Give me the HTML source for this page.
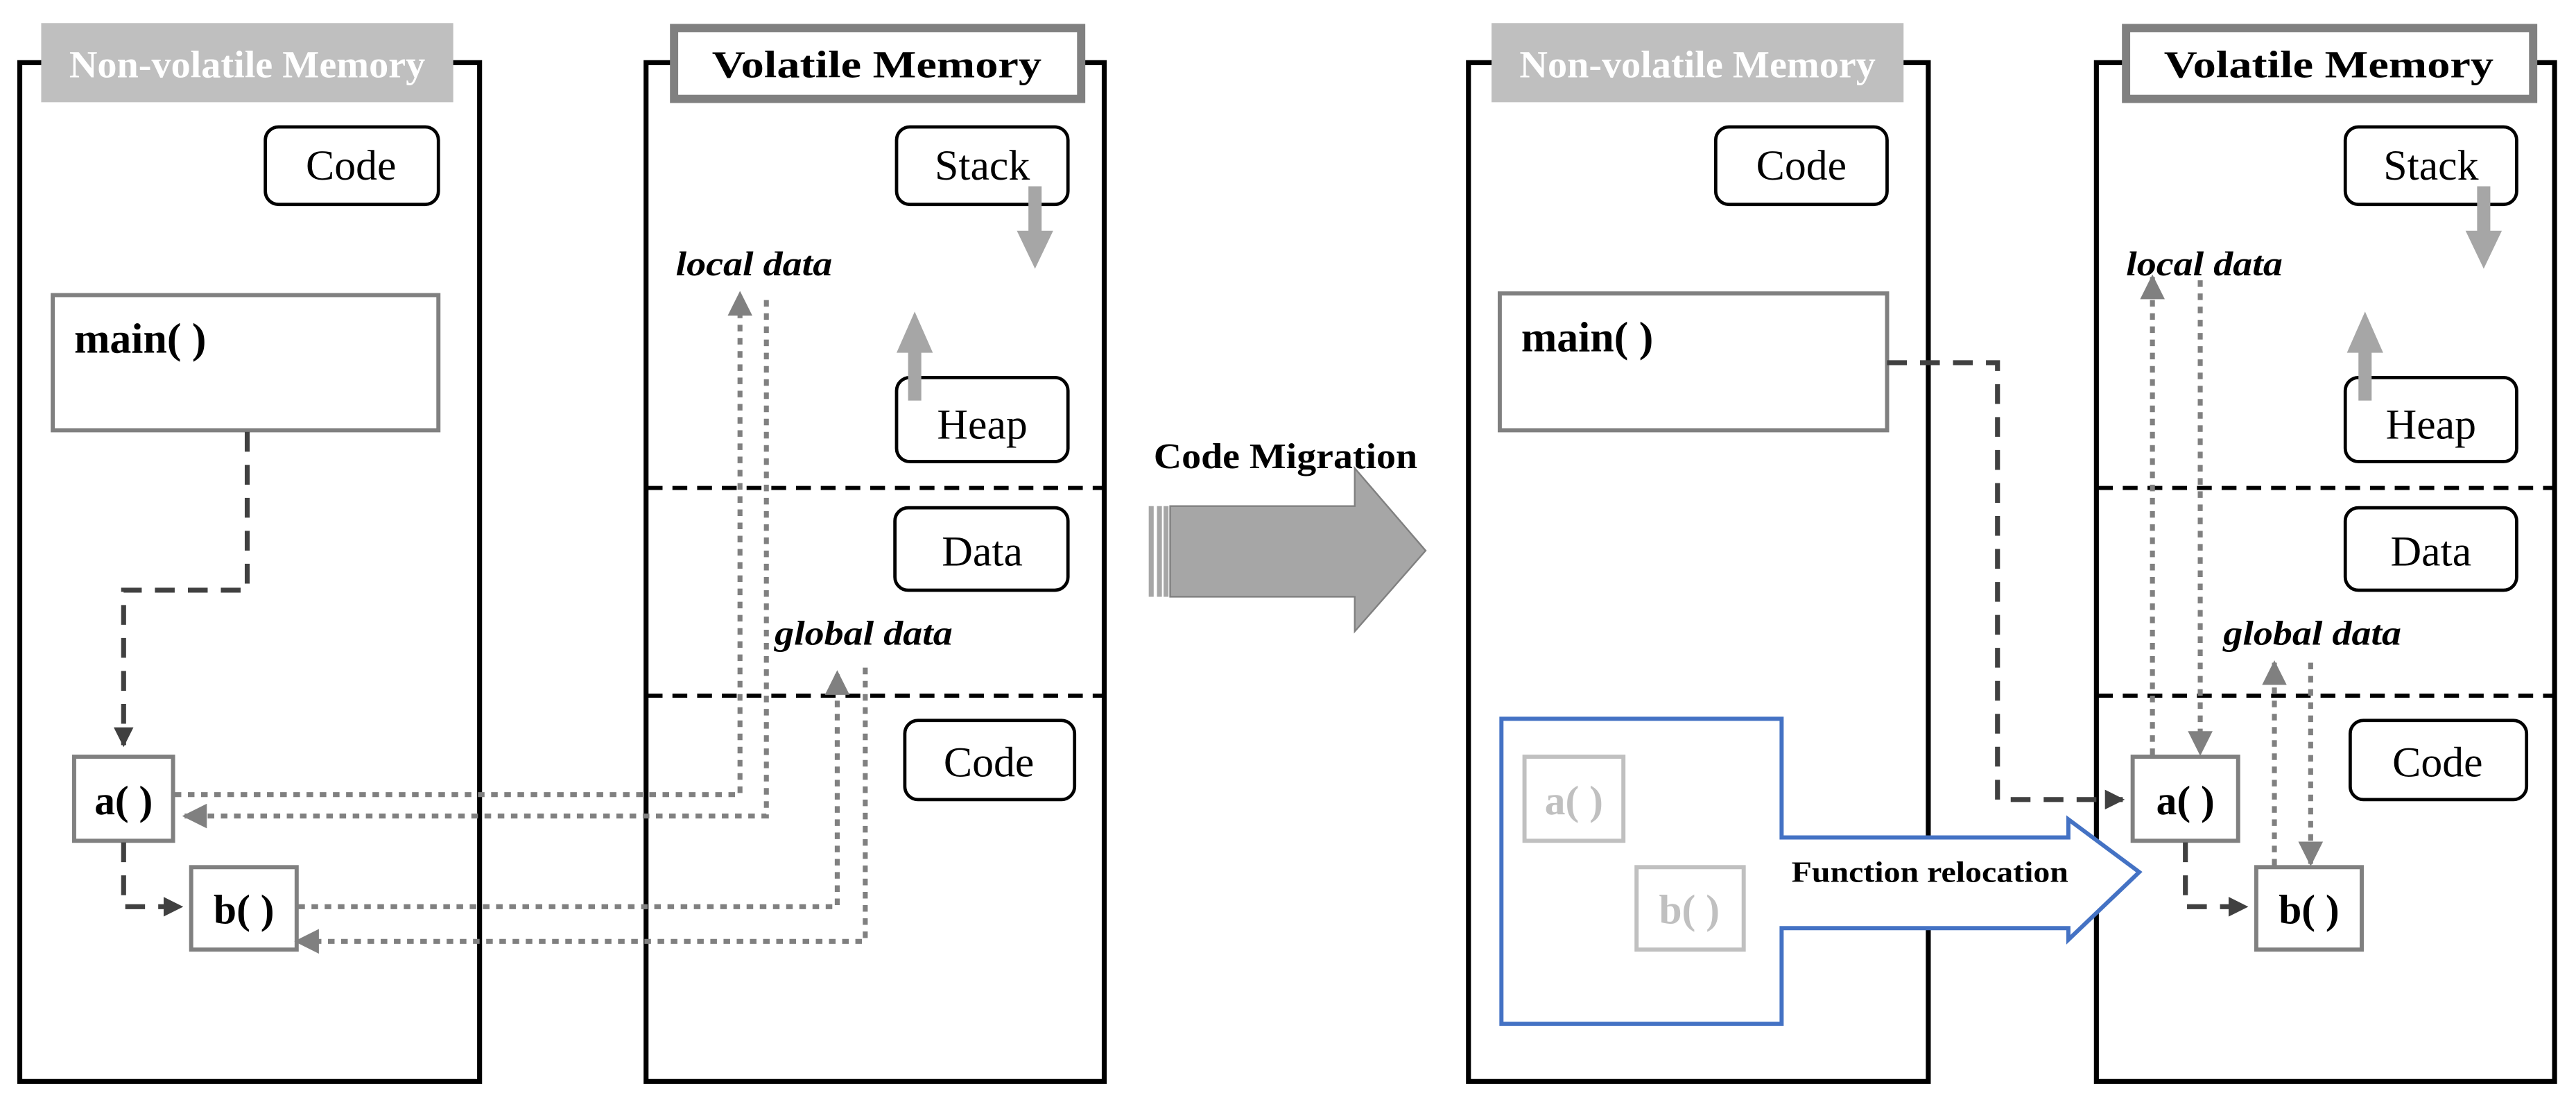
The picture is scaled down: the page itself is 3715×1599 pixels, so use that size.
<!DOCTYPE html>
<html><head><meta charset="utf-8"><style>html,body{margin:0;padding:0;background:#fff}svg{display:block}</style></head>
<body>
<svg width="3715" height="1599" viewBox="0 0 1563 672.7" preserveAspectRatio="none" xmlns="http://www.w3.org/2000/svg" font-family="Liberation Serif, serif">
<defs>
<marker id="ad" viewBox="0 0 10 10" refX="9" refY="5" markerWidth="4" markerHeight="4" orient="auto"><path d="M0,0L10,5L0,10z" fill="#404040"/></marker>
<marker id="ag" viewBox="0 0 10 10" refX="9" refY="5" markerWidth="5" markerHeight="5" orient="auto"><path d="M0,0L10,5L0,10z" fill="#808080"/></marker>
</defs>
<rect width="1563" height="673" fill="#fff"/>
<g fill="none" stroke="#000" stroke-width="3">
<rect x="12" y="38" width="279" height="618"/>
<rect x="392" y="38" width="278" height="618"/>
<rect x="891" y="38" width="279" height="618"/>
<rect x="1272" y="38" width="278" height="618"/>
</g>
<rect x="25" y="14" width="250" height="48" fill="#bfbfbf"/>
<text x="150" y="47" text-anchor="middle" font-size="23" font-weight="bold" fill="#fff" textLength="216" lengthAdjust="spacingAndGlyphs">Non-volatile Memory</text>
<rect x="905" y="14" width="250" height="48" fill="#bfbfbf"/>
<text x="1030" y="47" text-anchor="middle" font-size="23" font-weight="bold" fill="#fff" textLength="216" lengthAdjust="spacingAndGlyphs">Non-volatile Memory</text>
<rect x="409" y="17" width="247" height="43" fill="#fff" stroke="#808080" stroke-width="5"/>
<text x="532" y="47" text-anchor="middle" font-size="23" font-weight="bold" textLength="200" lengthAdjust="spacingAndGlyphs">Volatile Memory</text>
<rect x="1290" y="17" width="247" height="43" fill="#fff" stroke="#808080" stroke-width="5"/>
<text x="1413" y="47" text-anchor="middle" font-size="23" font-weight="bold" textLength="200" lengthAdjust="spacingAndGlyphs">Volatile Memory</text>
<g fill="#fff" stroke="#000" stroke-width="2">
<rect x="161" y="77" width="105" height="47" rx="8"/>
<rect x="1041" y="77" width="104" height="47" rx="8"/>
<rect x="544" y="77" width="104" height="47" rx="8"/>
<rect x="544" y="229" width="104" height="51" rx="8"/>
<rect x="543" y="308" width="105" height="50" rx="8"/>
<rect x="549" y="437" width="103" height="48" rx="8"/>
<rect x="1423" y="77" width="104" height="47" rx="8"/>
<rect x="1423" y="229" width="104" height="51" rx="8"/>
<rect x="1423" y="308" width="104" height="50" rx="8"/>
<rect x="1426" y="437" width="107" height="48" rx="8"/>
</g>
<g font-size="26" text-anchor="middle">
<text x="213" y="109">Code</text><text x="1093" y="109">Code</text>
<text x="596" y="109">Stack</text><text x="596" y="266">Heap</text><text x="596" y="343">Data</text><text x="600" y="471">Code</text>
<text x="1475" y="109">Stack</text><text x="1475" y="266">Heap</text><text x="1475" y="343">Data</text><text x="1479" y="471">Code</text>
</g>
<g stroke="#000" stroke-width="2.5" stroke-dasharray="9,6">
<line x1="393" y1="296" x2="669" y2="296"/><line x1="393" y1="422" x2="669" y2="422"/>
<line x1="1273" y1="296" x2="1549" y2="296"/><line x1="1273" y1="422" x2="1549" y2="422"/>
</g>
<g fill="#a6a6a6">
<rect x="624" y="113" width="8" height="28"/><path d="M617,140L639,140L628,163z"/>
<rect x="551" y="213" width="8" height="30"/><path d="M544,214L566,214L555,189z"/>
<rect x="1503" y="113" width="8" height="28"/><path d="M1496,140L1518,140L1507,163z"/>
<rect x="1431" y="213" width="8" height="30"/><path d="M1424,214L1446,214L1435,189z"/>
</g>
<rect x="32" y="179" width="234" height="82" fill="#fff" stroke="#808080" stroke-width="2.5"/>
<text x="45" y="214" font-size="26" font-weight="bold">main( )</text>
<rect x="910" y="178" width="235" height="83" fill="#fff" stroke="#808080" stroke-width="2.5"/>
<text x="923" y="213" font-size="26" font-weight="bold">main( )</text>
<g fill="#fff" stroke="#808080" stroke-width="2.5">
<rect x="45" y="459" width="60" height="51"/><rect x="116" y="526" width="64" height="50"/>
<rect x="1294" y="459" width="64" height="51"/><rect x="1369" y="526" width="64" height="50"/>
</g>
<g font-size="25" font-weight="bold" text-anchor="middle">
<text x="75" y="494">a( )</text><text x="148" y="560">b( )</text>
<text x="1326" y="494">a( )</text><text x="1401" y="560">b( )</text>
</g>
<g fill="none" stroke="#404040" stroke-width="3" stroke-dasharray="12,8">
<path d="M150,262V358H75V452" marker-end="url(#ad)"/>
<path d="M75,511V550H110" marker-end="url(#ad)"/>
<path d="M1145,220H1212V485H1288" marker-end="url(#ad)"/>
<path d="M1326,511V550H1363" marker-end="url(#ad)"/>
</g>
<g fill="none" stroke="#808080" stroke-width="3" stroke-dasharray="4,4">
<path d="M106,482H449V178" marker-end="url(#ag)"/>
<path d="M465,182V495H112" marker-end="url(#ag)"/>
<path d="M181,550H508V408" marker-end="url(#ag)"/>
<path d="M525,405V571H180" marker-end="url(#ag)"/>
<path d="M1306,458V168" marker-end="url(#ag)"/>
<path d="M1335,170V457" marker-end="url(#ag)"/>
<path d="M1380,525V402" marker-end="url(#ag)"/>
<path d="M1402,402V524" marker-end="url(#ag)"/>
</g>
<g font-size="21" font-weight="bold" font-style="italic">
<text x="410" y="167" textLength="95" lengthAdjust="spacingAndGlyphs">local data</text><text x="470" y="391" textLength="108" lengthAdjust="spacingAndGlyphs">global data</text>
<text x="1290" y="167" textLength="95" lengthAdjust="spacingAndGlyphs">local data</text><text x="1349" y="391" textLength="108" lengthAdjust="spacingAndGlyphs">global data</text>
</g>
<text x="780" y="284" text-anchor="middle" font-size="22" font-weight="bold" textLength="160" lengthAdjust="spacingAndGlyphs">Code Migration</text>
<path d="M710,307H822V284L865,334L822,383V362H710z" fill="#a6a6a6" stroke="#808080" stroke-width="1"/>
<rect x="697" y="307" width="3" height="55" fill="#a6a6a6"/><rect x="702" y="307" width="3" height="55" fill="#a6a6a6"/><rect x="706" y="307" width="3" height="55" fill="#a6a6a6"/>
<path d="M911,436H1081V508H1255V497L1298,529L1255,570V563H1081V621H911z" fill="#fff" stroke="#4472c4" stroke-width="2.5"/>
<text x="1171" y="535" text-anchor="middle" font-size="18" font-weight="bold" textLength="168" lengthAdjust="spacingAndGlyphs">Function relocation</text>
<g fill="#fff" stroke="#c0c0c0" stroke-width="2.5">
<rect x="925" y="459" width="60" height="51"/><rect x="993" y="526" width="65" height="50"/>
</g>
<g font-size="25" font-weight="bold" text-anchor="middle" fill="#c0c0c0">
<text x="955" y="494">a( )</text><text x="1025" y="560">b( )</text>
</g>
</svg>
</body></html>
